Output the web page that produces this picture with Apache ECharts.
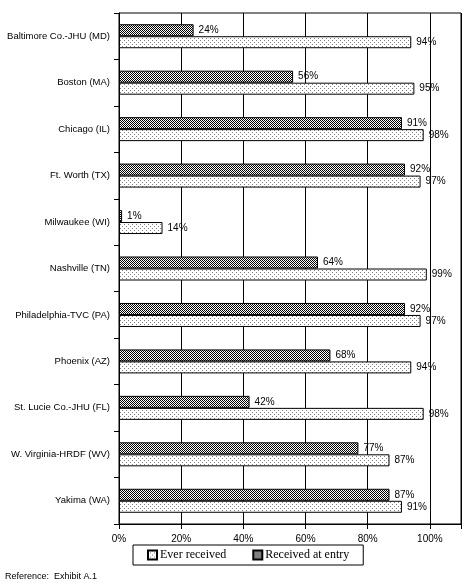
<!DOCTYPE html>
<html>
<head>
<meta charset="utf-8">
<script src="https://cdn.jsdelivr.net/npm/echarts@6/dist/echarts.min.js"></script>
<style>
html,body{margin:0;padding:0;background:#fff;}
#chart{width:472px;height:586px;}
</style>
</head>
<body>
<div id="chart"></div>
<script>
var sites = ['Baltimore Co.-JHU (MD)', 'Boston (MA)', 'Chicago (IL)', 'Ft. Worth (TX)', 'Milwaukee (WI)',
    'Nashville (TN)', 'Philadelphia-TVC (PA)', 'Phoenix (AZ)', 'St. Lucie Co.-JHU (FL)', 'W. Virginia-HRDF (WV)', 'Yakima (WA)'];
var atEntry = [24, 56, 91, 92, 1, 64, 92, 68, 42, 77, 87];
var everReceived = [94, 95, 98, 97, 14, 99, 97, 94, 98, 87, 91];
var xTicks = [0, 20, 40, 60, 80, 100];

// fill patterns like the old printout
function makePattern(size, dots, dotColor) {
    var c = document.createElement('canvas');
    c.width = size; c.height = size;
    var ctx = c.getContext('2d');
    ctx.fillStyle = '#fff';
    ctx.fillRect(0, 0, size, size);
    ctx.fillStyle = dotColor;
    for (var i = 0; i < dots.length; i++) {
        ctx.fillRect(dots[i][0], dots[i][1], 1, 1);
    }
    return {image: c, repeat: 'repeat'};
}
var checker = makePattern(2, [[0, 0], [1, 1]], '#000');
var dotted = makePattern(4, [[0, 0], [2, 2]], '#808080');

var chart = echarts.init(document.getElementById('chart'));
var labelFont = {color: '#000', fontFamily: 'Liberation Sans', fontSize: 10};

var option = {
    animation: false,
    backgroundColor: '#fff',
    grid: {
        left: 119,
        right: 11,
        top: 13,
        bottom: 62,
        show: true,
        borderColor: '#000',
        borderWidth: 1
    },
    legend: {
        data: ['Ever received', 'Received at entry'],
        left: 133,
        top: 545,
        padding: [4, 14, 4, 14],
        itemGap: 26,
        itemWidth: 9,
        itemHeight: 9,
        icon: 'rect',
        borderColor: '#000',
        borderWidth: 1,
        textStyle: {color: '#000', fontFamily: 'Liberation Serif', fontSize: 12, padding: [0, 0, 0, -2]}
    },
    xAxis: {
        type: 'value',
        min: 0,
        max: 110,
        interval: 20,
        axisLine: {show: true, lineStyle: {color: '#000'}},
        axisTick: {show: true, length: 5, lineStyle: {color: '#000'}},
        splitLine: {show: true, lineStyle: {color: '#000', width: 1}},
        axisLabel: Object.assign({
            margin: 10,
            formatter: function (v) { return xTicks.indexOf(v) >= 0 ? v + '%' : ''; }
        }, labelFont)
    },
    yAxis: {
        type: 'category',
        data: sites,
        inverse: true,
        axisLine: {show: true, lineStyle: {color: '#000'}},
        axisTick: {show: true, length: 5, lineStyle: {color: '#000'}},
        axisLabel: Object.assign({}, labelFont, {margin: 9, fontSize: 9.5})
    },
    series: [
        {
            name: 'Received at entry',
            type: 'bar',
            data: atEntry,
            barWidth: 12,
            barGap: '0%',
            itemStyle: {color: checker, borderColor: '#000', borderWidth: 1},
            label: Object.assign({show: true, position: 'right', distance: 5, formatter: '{c}%'}, labelFont)
        },
        {
            name: 'Ever received',
            type: 'bar',
            data: everReceived,
            barWidth: 12,
            barGap: '0%',
            itemStyle: {color: dotted, borderColor: '#000', borderWidth: 1},
            label: Object.assign({show: true, position: 'right', distance: 5, formatter: '{c}%'}, labelFont)
        }
    ],
    graphic: [{
        type: 'text',
        left: 5,
        top: 572,
        style: {text: 'Reference:  Exhibit A.1', fill: '#000', font: '9px "Liberation Sans"'}
    }]
};
chart.setOption(option);
</script>
</body>
</html>
